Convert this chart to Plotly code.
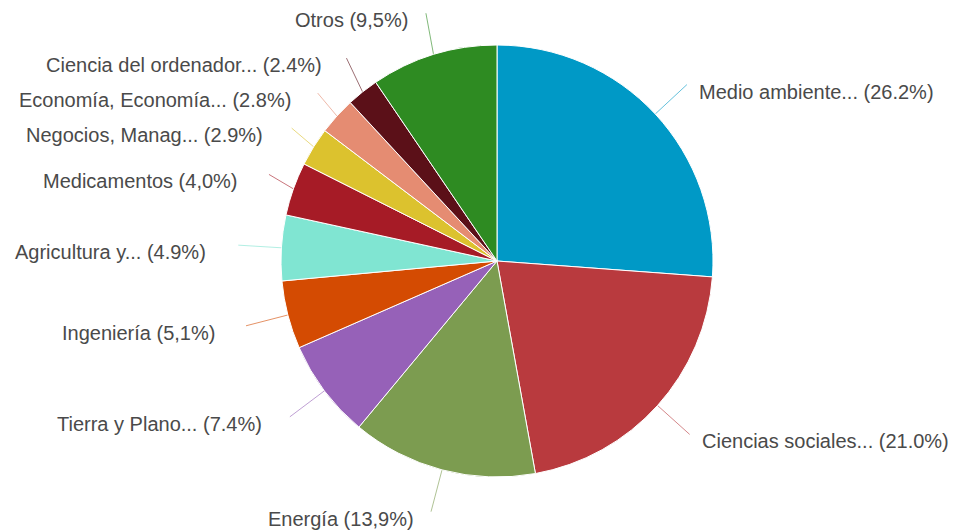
import math
import plotly.graph_objects as go

labels = ["Medio ambiente...", "Ciencias sociales...", "Energía", "Tierra y Plano...",
          "Ingeniería", "Agricultura y...", "Medicamentos", "Negocios, Manag...",
          "Economía, Economía...", "Ciencia del ordenador...", "Otros"]
values = [26.2, 21.0, 13.9, 7.4, 5.1, 4.9, 4.0, 2.9, 2.8, 2.4, 9.5]
pct_text = ["26.2%", "21.0%", "13,9%", "7.4%", "5,1%", "4.9%", "4,0%", "2.9%", "2.8%", "2.4%", "9,5%"]
colors = ["#0099c6", "#b93a3e", "#7c9c50", "#9661b8", "#d44b02", "#80e5d2",
          "#a61b26", "#dcc22e", "#e58c72", "#5b1018", "#2e8b22"]

W, H = 954, 531
CX, CY, R = 497, 261, 216

fig = go.Figure()
fig.add_trace(go.Pie(
    labels=labels, values=values, sort=False, direction="clockwise", rotation=0,
    marker=dict(colors=colors, line=dict(color="white", width=1)),
    textinfo="none", hoverinfo="label+percent", showlegend=False,
    domain=dict(x=[(CX - R) / W, (CX + R) / W], y=[(H - CY - R) / H, (H - CY + R) / H]),
))

# label geometry derived from the data
total = sum(values)
cum = 0.0
items = []
for lab, v, p, c in zip(labels, values, pct_text, colors):
    mid = (cum + v / 2) / total * 2 * math.pi
    cum += v
    s, co = math.sin(mid), math.cos(mid)
    lr = 1.2 if (s > 0 or co < 0.2) else 1.12
    items.append(dict(text=f"{lab} ({p})", color=c,
                      sx=CX + R * s, sy=CY - R * co,
                      ex=CX + lr * R * s, ey=CY - 1.2 * R * co,
                      left=s < 0, gap=(10 + 20 * abs(s)) if s < 0 else 10))

# spread labels vertically on each side
for side in (True, False):
    grp = sorted([it for it in items if it["left"] == side], key=lambda d: d["ey"])
    for i in range(1, len(grp)):
        if grp[i]["ey"] - grp[i - 1]["ey"] < 35:
            grp[i]["ey"] = grp[i - 1]["ey"] + 35

annotations = []
for it in items:
    fig.add_trace(go.Scatter(
        x=[it["sx"], it["ex"]], y=[it["sy"], it["ey"]], mode="lines",
        line=dict(color=it["color"], width=1), opacity=0.6,
        hoverinfo="skip", showlegend=False))
    annotations.append(dict(
        x=it["ex"] + (-it["gap"] if it["left"] else it["gap"]), y=it["ey"], xref="x", yref="y",
        text=it["text"], showarrow=False, yshift=-7,
        xanchor="right" if it["left"] else "left", yanchor="middle",
        font=dict(family="Arial, Liberation Sans, sans-serif", size=20, color="#4a4a4a")))

fig.update_layout(
    width=W, height=H, margin=dict(l=0, r=0, t=0, b=0),
    paper_bgcolor="white", plot_bgcolor="rgba(0,0,0,0)",
    xaxis=dict(range=[0, W], visible=False, fixedrange=True),
    yaxis=dict(range=[H, 0], visible=False, fixedrange=True),
    annotations=annotations,
)
fig.write_html("out.html", config={"displayModeBar": False},
               post_script="document.body.style.margin='0';document.body.style.overflow='hidden';")
